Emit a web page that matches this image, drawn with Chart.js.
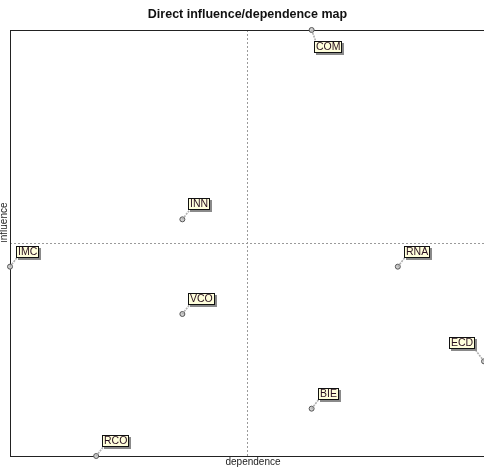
<!DOCTYPE html>
<html>
<head>
<meta charset="utf-8">
<script src="https://cdn.jsdelivr.net/npm/chart.js@4.4.1/dist/chart.umd.min.js"></script>
<style>
  html, body { margin: 0; padding: 0; background: #fff; }
  canvas { display: block; }
</style>
</head>
<body>
<canvas id="map" width="484" height="468"></canvas>
<script>
// variables of the MICMAC direct matrix
const variables = ['COM', 'INN', 'IMC', 'RNA', 'VCO', 'ECD', 'BIE', 'RCO'];
const dependence = [12, 9, 5, 14, 9, 16, 12, 7];
const influence = [16, 12, 11, 11, 10, 9, 8, 7];

const depMin = 5, depMax = 16;
const infMin = 7, infMax = 16;

const FONT = '"Liberation Sans", Arial, sans-serif';

// frame, centre lines, titles and variable labels
const mapDecor = {
  id: 'mapDecor',
  beforeDatasetsDraw(chart) {
    const { ctx, chartArea: a, scales } = chart;
    ctx.save();
    // centre dashed lines
    const cx = Math.round(scales.x.getPixelForValue((depMin + depMax) / 2)) + 0.5;
    const cy = Math.round(scales.y.getPixelForValue((infMin + infMax) / 2)) + 0.5;
    ctx.strokeStyle = '#9a9a9a';
    ctx.lineWidth = 1;
    ctx.setLineDash([2, 2]);
    ctx.beginPath();
    ctx.moveTo(cx, a.top); ctx.lineTo(cx, a.bottom);
    ctx.moveTo(a.left, cy); ctx.lineTo(a.right, cy);
    ctx.stroke();
    ctx.setLineDash([]);
    // frame
    ctx.strokeStyle = '#222';
    ctx.strokeRect(a.left + 0.5, a.top + 0.5, a.right - a.left, a.bottom - a.top);

    // chart title
    ctx.fillStyle = '#111';
    ctx.textBaseline = 'middle';
    ctx.textAlign = 'center';
    ctx.font = 'bold 12.5px ' + FONT;
    ctx.fillText('Direct influence/dependence map', cx, 15);

    // axis titles
    ctx.fillStyle = '#222';
    ctx.font = '10px ' + FONT;
    ctx.fillText('dependence', 253, 462);
    ctx.save();
    ctx.translate(4, cy - 1);
    ctx.rotate(-Math.PI / 2);
    ctx.textAlign = 'left';
    ctx.fillText('influence', 0, 0);
    ctx.restore();
    ctx.restore();
  },
  afterDatasetsDraw(chart) {
    const { ctx } = chart;
    const meta = chart.getDatasetMeta(0);
    ctx.save();
    ctx.font = '10.5px ' + FONT;
    ctx.textBaseline = 'middle';
    ctx.textAlign = 'left';
    meta.data.forEach((pt, i) => {
      const name = variables[i];
      const px = pt.x, py = pt.y;
      const w = Math.round(ctx.measureText(name).width) + 4;
      const h = 12;
      let bx, by, lx, ly;
      if (name === 'COM') {
        bx = px + 2; by = py + 11; lx = bx + 2; ly = by;
      } else if (name === 'ECD') {
        bx = px - 9 - w; by = py - 12 - h; lx = bx + w; ly = by + h;
      } else {
        bx = px + 6; by = py - 9 - h; lx = bx + 1; ly = by + h;
      }
      bx = Math.round(bx); by = Math.round(by);
      // leader line
      ctx.strokeStyle = '#b0b0b0';
      ctx.lineWidth = 1.6;
      ctx.setLineDash([2, 1]);
      ctx.beginPath();
      ctx.moveTo(px, py);
      ctx.lineTo(lx, ly);
      ctx.stroke();
      ctx.setLineDash([]);
      // shadow
      ctx.fillStyle = '#8a8a8a';
      ctx.fillRect(bx + 2, by + 2, w, h);
      // box
      ctx.fillStyle = '#ffffdc';
      ctx.fillRect(bx, by, w, h);
      ctx.strokeStyle = '#111';
      ctx.lineWidth = 1;
      ctx.strokeRect(bx + 0.5, by + 0.5, w - 1, h - 1);
      ctx.fillStyle = '#2a1020';
      ctx.fillText(name, bx + 2, by + h / 2 + 0.5);
    });
    ctx.restore();
  }
};

new Chart(document.getElementById('map'), {
  type: 'scatter',
  data: {
    labels: variables,
    datasets: [{
      label: 'Variables',
      data: variables.map((v, i) => ({ x: dependence[i], y: influence[i] })),
      pointRadius: 2.5,
      pointBackgroundColor: '#d0d0d0',
      pointBorderColor: '#555',
      pointBorderWidth: 1,
      clip: false
    }]
  },
  options: {
    responsive: false,
    animation: false,
    devicePixelRatio: 1,
    layout: { autoPadding: false, padding: { left: 10, top: 30, right: 0, bottom: 12 } },
    scales: {
      x: { type: 'linear', min: depMin, max: depMax, display: false },
      y: { type: 'linear', min: infMin, max: infMax, display: false }
    },
    plugins: {
      legend: { display: false },
      tooltip: { enabled: false },
      title: { display: false }
    }
  },
  plugins: [mapDecor]
});
</script>
</body>
</html>
